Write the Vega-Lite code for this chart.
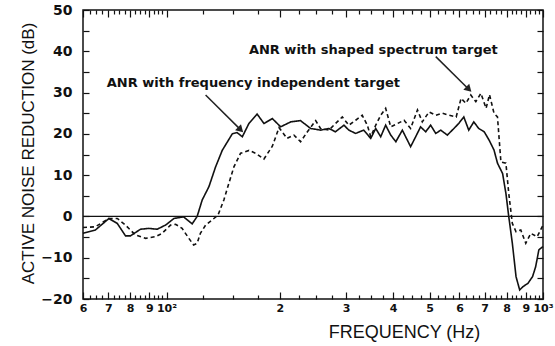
{
  "$schema": "https://vega.github.io/schema/vega-lite/v6.json",
  "width": 460,
  "height": 289,
  "autosize": {"type": "none"},
  "padding": {"left": 83, "top": 10, "right": 12, "bottom": 47},
  "background": "white",
  "config": {
    "view": {"stroke": "#111", "strokeWidth": 1.5},
    "axis": {"grid": false, "domain": false, "tickColor": "#111", "labelColor": "#111", "titleColor": "#111", "tickWidth": 1.2}
  },
  "datasets": {
    "curves": [
      {"series": "frequency independent target", "f": 60, "db": -4.1},
      {"series": "frequency independent target", "f": 64.7, "db": -3.3},
      {"series": "frequency independent target", "f": 70.3, "db": -0.5},
      {"series": "frequency independent target", "f": 74, "db": -1.7},
      {"series": "frequency independent target", "f": 77.8, "db": -4.7},
      {"series": "frequency independent target", "f": 80.2, "db": -4.7},
      {"series": "frequency independent target", "f": 85.3, "db": -3.1},
      {"series": "frequency independent target", "f": 89.7, "db": -2.9},
      {"series": "frequency independent target", "f": 94.4, "db": -3.1},
      {"series": "frequency independent target", "f": 99.4, "db": -2.1},
      {"series": "frequency independent target", "f": 104.6, "db": -0.5},
      {"series": "frequency independent target", "f": 111, "db": -0.1},
      {"series": "frequency independent target", "f": 117, "db": -1.8},
      {"series": "frequency independent target", "f": 120.6, "db": 0},
      {"series": "frequency independent target", "f": 124.4, "db": 4},
      {"series": "frequency independent target", "f": 129.6, "db": 7.2},
      {"series": "frequency independent target", "f": 135, "db": 12},
      {"series": "frequency independent target", "f": 140.6, "db": 16},
      {"series": "frequency independent target", "f": 149.5, "db": 20},
      {"series": "frequency independent target", "f": 154, "db": 20.3},
      {"series": "frequency independent target", "f": 159, "db": 19.3},
      {"series": "frequency independent target", "f": 165.5, "db": 22.5},
      {"series": "frequency independent target", "f": 174, "db": 24.8},
      {"series": "frequency independent target", "f": 181.5, "db": 22.5},
      {"series": "frequency independent target", "f": 191, "db": 23.7},
      {"series": "frequency independent target", "f": 201, "db": 21.7},
      {"series": "frequency independent target", "f": 213.7, "db": 22.9},
      {"series": "frequency independent target", "f": 227, "db": 23.2},
      {"series": "frequency independent target", "f": 241.4, "db": 21.3},
      {"series": "frequency independent target", "f": 256.5, "db": 20.9},
      {"series": "frequency independent target", "f": 270, "db": 21.3},
      {"series": "frequency independent target", "f": 281, "db": 20.5},
      {"series": "frequency independent target", "f": 296, "db": 22.1},
      {"series": "frequency independent target", "f": 305, "db": 20.9},
      {"series": "frequency independent target", "f": 318, "db": 20.1},
      {"series": "frequency independent target", "f": 334, "db": 20.9},
      {"series": "frequency independent target", "f": 348.7, "db": 18.9},
      {"series": "frequency independent target", "f": 359.5, "db": 21.3},
      {"series": "frequency independent target", "f": 370.6, "db": 19.3},
      {"series": "frequency independent target", "f": 382, "db": 22.1},
      {"series": "frequency independent target", "f": 394, "db": 19.7},
      {"series": "frequency independent target", "f": 406.6, "db": 18.1},
      {"series": "frequency independent target", "f": 423, "db": 20.9},
      {"series": "frequency independent target", "f": 445, "db": 16.9},
      {"series": "frequency independent target", "f": 459, "db": 19.3},
      {"series": "frequency independent target", "f": 473, "db": 21.7},
      {"series": "frequency independent target", "f": 488, "db": 20.5},
      {"series": "frequency independent target", "f": 503, "db": 22.1},
      {"series": "frequency independent target", "f": 519, "db": 20.1},
      {"series": "frequency independent target", "f": 535, "db": 20.9},
      {"series": "frequency independent target", "f": 557, "db": 19.7},
      {"series": "frequency independent target", "f": 580, "db": 21.3},
      {"series": "frequency independent target", "f": 597, "db": 22.5},
      {"series": "frequency independent target", "f": 616, "db": 24.1},
      {"series": "frequency independent target", "f": 635, "db": 20.9},
      {"series": "frequency independent target", "f": 655, "db": 22.9},
      {"series": "frequency independent target", "f": 675, "db": 21.3},
      {"series": "frequency independent target", "f": 698, "db": 20.5},
      {"series": "frequency independent target", "f": 719, "db": 18.5},
      {"series": "frequency independent target", "f": 741, "db": 16.1},
      {"series": "frequency independent target", "f": 757, "db": 12.9},
      {"series": "frequency independent target", "f": 781, "db": 10.4},
      {"series": "frequency independent target", "f": 797, "db": 5.6},
      {"series": "frequency independent target", "f": 811, "db": 0},
      {"series": "frequency independent target", "f": 829, "db": -6.5},
      {"series": "frequency independent target", "f": 848, "db": -14.6},
      {"series": "frequency independent target", "f": 867, "db": -17.8},
      {"series": "frequency independent target", "f": 885, "db": -17},
      {"series": "frequency independent target", "f": 912, "db": -16.2},
      {"series": "frequency independent target", "f": 938, "db": -14.6},
      {"series": "frequency independent target", "f": 956, "db": -12.2},
      {"series": "frequency independent target", "f": 975, "db": -8.1},
      {"series": "frequency independent target", "f": 1000, "db": -7.3},
      {"series": "shaped spectrum target", "f": 60, "db": -2.7},
      {"series": "shaped spectrum target", "f": 64.7, "db": -2.5},
      {"series": "shaped spectrum target", "f": 70.3, "db": -0.5},
      {"series": "shaped spectrum target", "f": 74, "db": -0.5},
      {"series": "shaped spectrum target", "f": 77.8, "db": -2.1},
      {"series": "shaped spectrum target", "f": 82.7, "db": -4.5},
      {"series": "shaped spectrum target", "f": 88, "db": -5.3},
      {"series": "shaped spectrum target", "f": 93.5, "db": -4.9},
      {"series": "shaped spectrum target", "f": 97.3, "db": -4.1},
      {"series": "shaped spectrum target", "f": 102.5, "db": -2.1},
      {"series": "shaped spectrum target", "f": 105.7, "db": -1.9},
      {"series": "shaped spectrum target", "f": 110, "db": -2.9},
      {"series": "shaped spectrum target", "f": 114.6, "db": -5.3},
      {"series": "shaped spectrum target", "f": 118, "db": -6.9},
      {"series": "shaped spectrum target", "f": 120.6, "db": -6.5},
      {"series": "shaped spectrum target", "f": 123, "db": -4.1},
      {"series": "shaped spectrum target", "f": 127, "db": -2.1},
      {"series": "shaped spectrum target", "f": 132, "db": -0.9},
      {"series": "shaped spectrum target", "f": 137, "db": 0.3},
      {"series": "shaped spectrum target", "f": 142, "db": 4},
      {"series": "shaped spectrum target", "f": 146.4, "db": 8},
      {"series": "shaped spectrum target", "f": 151, "db": 12},
      {"series": "shaped spectrum target", "f": 157.3, "db": 15.3},
      {"series": "shaped spectrum target", "f": 165.6, "db": 16},
      {"series": "shaped spectrum target", "f": 172.3, "db": 15.3},
      {"series": "shaped spectrum target", "f": 181.4, "db": 13.9},
      {"series": "shaped spectrum target", "f": 191, "db": 17},
      {"series": "shaped spectrum target", "f": 199, "db": 21.5},
      {"series": "shaped spectrum target", "f": 209, "db": 18.9},
      {"series": "shaped spectrum target", "f": 218, "db": 19.7},
      {"series": "shaped spectrum target", "f": 227, "db": 18.1},
      {"series": "shaped spectrum target", "f": 236.7, "db": 20.5},
      {"series": "shaped spectrum target", "f": 249, "db": 23.2},
      {"series": "shaped spectrum target", "f": 256.5, "db": 21.3},
      {"series": "shaped spectrum target", "f": 270, "db": 20.9},
      {"series": "shaped spectrum target", "f": 281, "db": 22.5},
      {"series": "shaped spectrum target", "f": 293, "db": 24.1},
      {"series": "shaped spectrum target", "f": 305, "db": 22.1},
      {"series": "shaped spectrum target", "f": 318, "db": 23.3},
      {"series": "shaped spectrum target", "f": 331, "db": 24.5},
      {"series": "shaped spectrum target", "f": 341.5, "db": 22.1},
      {"series": "shaped spectrum target", "f": 348.7, "db": 19.3},
      {"series": "shaped spectrum target", "f": 359.5, "db": 22.1},
      {"series": "shaped spectrum target", "f": 370.6, "db": 24.5},
      {"series": "shaped spectrum target", "f": 382, "db": 26.2},
      {"series": "shaped spectrum target", "f": 394, "db": 21.7},
      {"series": "shaped spectrum target", "f": 410.6, "db": 22.5},
      {"series": "shaped spectrum target", "f": 427.5, "db": 23.3},
      {"series": "shaped spectrum target", "f": 445, "db": 21.3},
      {"series": "shaped spectrum target", "f": 464, "db": 25.8},
      {"series": "shaped spectrum target", "f": 478, "db": 22.9},
      {"series": "shaped spectrum target", "f": 498, "db": 25.3},
      {"series": "shaped spectrum target", "f": 519, "db": 24.5},
      {"series": "shaped spectrum target", "f": 541, "db": 25},
      {"series": "shaped spectrum target", "f": 564, "db": 24.5},
      {"series": "shaped spectrum target", "f": 588, "db": 24.1},
      {"series": "shaped spectrum target", "f": 606, "db": 28.6},
      {"series": "shaped spectrum target", "f": 624, "db": 27.4},
      {"series": "shaped spectrum target", "f": 643, "db": 29.4},
      {"series": "shaped spectrum target", "f": 663, "db": 27.8},
      {"series": "shaped spectrum target", "f": 684, "db": 29.8},
      {"series": "shaped spectrum target", "f": 706, "db": 26.2},
      {"series": "shaped spectrum target", "f": 721, "db": 29.5},
      {"series": "shaped spectrum target", "f": 741, "db": 25},
      {"series": "shaped spectrum target", "f": 757, "db": 24.1},
      {"series": "shaped spectrum target", "f": 773, "db": 13.2},
      {"series": "shaped spectrum target", "f": 797, "db": 12.9},
      {"series": "shaped spectrum target", "f": 811, "db": 5.6},
      {"series": "shaped spectrum target", "f": 829, "db": -1.7},
      {"series": "shaped spectrum target", "f": 848, "db": -3.7},
      {"series": "shaped spectrum target", "f": 873, "db": -3.3},
      {"series": "shaped spectrum target", "f": 900, "db": -6.5},
      {"series": "shaped spectrum target", "f": 928, "db": -4.1},
      {"series": "shaped spectrum target", "f": 965, "db": -4.9},
      {"series": "shaped spectrum target", "f": 1000, "db": -2.1}
    ],
    "notes": [
      {"label": "ANR with frequency independent target", "f": 69.4, "db": 32.2},
      {"label": "ANR with shaped spectrum target", "f": 165.5, "db": 40.3}
    ],
    "arrows": [
      {"f": 127, "db": 29.4, "f2": 156.5, "db2": 21.2},
      {"f": 519, "db": 38.7, "f2": 632, "db2": 31}
    ],
    "zero": [{"db": 0}]
  },
  "resolve": {"axis": {"x": "independent", "y": "independent"}},
  "layer": [
    {
      "data": {"name": "zero"},
      "mark": {"type": "rule", "color": "#111", "strokeWidth": 1.2},
      "encoding": {
        "y": {"field": "db", "type": "quantitative", "scale": {"domain": [-20, 50], "nice": false, "zero": false}, "axis": null}
      }
    },
    {
      "data": {"name": "curves"},
      "mark": {"type": "line", "color": "#111", "strokeWidth": 1.6},
      "encoding": {
        "x": {
          "field": "f", "type": "quantitative",
          "scale": {"type": "log", "domain": [60, 1000], "nice": false},
          "axis": {
            "orient": "bottom",
            "values": [60, 70, 80, 90, 100, 200, 300, 400, 500, 600, 700, 800, 900, 1000],
            "labelExpr": "datum.value == 100 ? '10²' : datum.value == 1000 ? '10³' : datum.value < 100 ? '' + round(datum.value / 10) : '' + round(datum.value / 100)",
            "tickSize": -7,
            "labelPadding": 10,
            "labelFont": "DejaVu Sans",
            "labelFontSize": 11,
            "labelFontWeight": "bold",
            "labelOverlap": false,
            "labelFlush": false,
            "labelBound": false,
            "title": "FREQUENCY (Hz)",
            "titleX": 321,
            "titleY": 33,
            "titleAlign": "center",
            "titleBaseline": "middle",
            "titleFont": "Liberation Sans",
            "titleFontSize": 18,
            "titleFontWeight": 500
          }
        },
        "y": {
          "field": "db", "type": "quantitative",
          "scale": {"domain": [-20, 50], "nice": false, "zero": false},
          "axis": {
            "orient": "left",
            "values": [-20, -15, -10, -5, 0, 5, 10, 15, 20, 25, 30, 35, 40, 45, 50],
            "labelExpr": "datum.value % 10 == 0 ? datum.label : ''",
            "tickSize": -6,
            "labelPadding": 17,
            "labelFont": "DejaVu Sans",
            "labelFontSize": 14,
            "labelFontWeight": "bold",
            "title": "ACTIVE NOISE REDUCTION (dB)",
            "titleX": -55,
            "titleY": 143,
            "titleAngle": -90,
            "titleAlign": "center",
            "titleBaseline": "middle",
            "titleFont": "Liberation Sans",
            "titleFontSize": 17,
            "titleFontWeight": 500
          }
        },
        "strokeDash": {
          "field": "series", "type": "nominal",
          "scale": {"domain": ["frequency independent target", "shaped spectrum target"], "range": [[1, 0], [4, 3]]},
          "legend": null
        }
      }
    },
    {
      "data": {"name": "notes"},
      "mark": {"type": "text", "align": "left", "baseline": "middle", "font": "DejaVu Sans", "fontWeight": "bold", "fontSize": 13, "color": "#111"},
      "encoding": {
        "x": {
          "field": "f", "type": "quantitative",
          "scale": {"type": "log", "domain": [60, 1000], "nice": false},
          "axis": {
            "orient": "bottom",
            "values": [62.5, 65, 67.5, 72.5, 75, 77.5, 82.5, 85, 87.5, 92.5, 95, 97.5, 125, 150, 175, 225, 250, 275, 325, 350, 375, 425, 450, 475, 525, 550, 575, 625, 650, 675, 725, 750, 775, 825, 850, 875, 925, 950, 975],
            "labels": false, "tickSize": -4, "title": null
          }
        },
        "y": {
          "field": "db", "type": "quantitative",
          "scale": {"domain": [-20, 50], "nice": false, "zero": false},
          "axis": {
            "orient": "right",
            "values": [-20, -15, -10, -5, 0, 5, 10, 15, 20, 25, 30, 35, 40, 45, 50],
            "labels": false, "tickSize": -6, "title": null
          }
        },
        "text": {"field": "label", "type": "nominal"}
      }
    },
    {
      "data": {"name": "arrows"},
      "mark": {"type": "rule", "color": "#222", "strokeWidth": 1.5},
      "encoding": {
        "x": {
          "field": "f", "type": "quantitative",
          "scale": {"type": "log", "domain": [60, 1000], "nice": false},
          "axis": {
            "orient": "top",
            "values": [60, 70, 80, 90, 100, 200, 300, 400, 500, 600, 700, 800, 900, 1000],
            "labels": false, "tickSize": -7, "title": null
          }
        },
        "y": {"field": "db", "type": "quantitative", "scale": {"domain": [-20, 50], "nice": false, "zero": false}, "axis": null},
        "x2": {"field": "f2"},
        "y2": {"field": "db2"}
      }
    },
    {
      "data": {"name": "arrows"},
      "mark": {"type": "point", "shape": "triangle", "filled": true, "size": 70, "angle": 135, "color": "#222", "opacity": 1},
      "encoding": {
        "x": {
          "field": "f2", "type": "quantitative",
          "scale": {"type": "log", "domain": [60, 1000], "nice": false},
          "axis": {
            "orient": "top",
            "values": [62.5, 65, 67.5, 72.5, 75, 77.5, 82.5, 85, 87.5, 92.5, 95, 97.5, 125, 150, 175, 225, 250, 275, 325, 350, 375, 425, 450, 475, 525, 550, 575, 625, 650, 675, 725, 750, 775, 825, 850, 875, 925, 950, 975],
            "labels": false, "tickSize": -4, "title": null
          }
        },
        "y": {"field": "db2", "type": "quantitative", "scale": {"domain": [-20, 50], "nice": false, "zero": false}, "axis": null}
      }
    }
  ]
}
